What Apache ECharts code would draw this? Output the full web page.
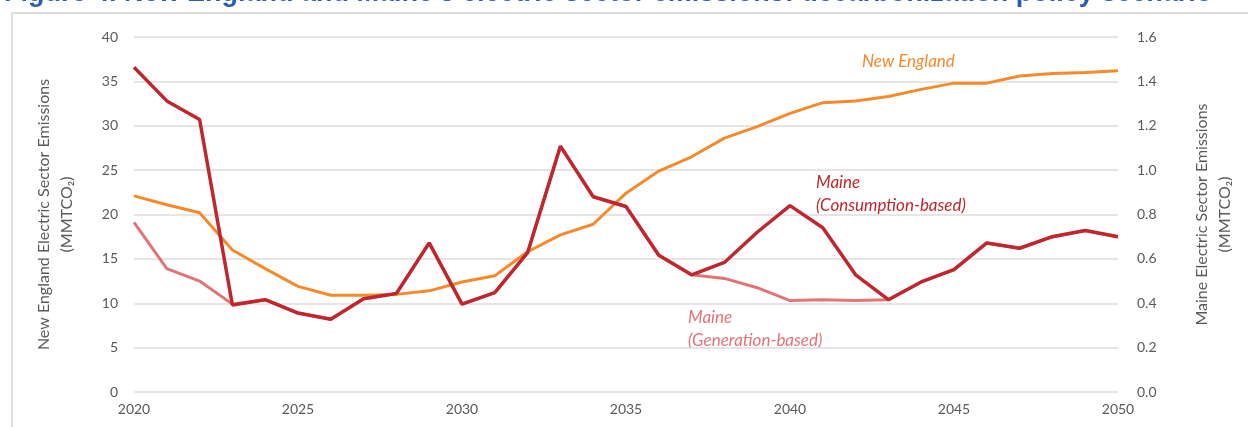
<!DOCTYPE html>
<html>
<head>
<meta charset="utf-8">
<script src="https://cdn.jsdelivr.net/npm/echarts@6/dist/echarts.min.js"></script>
<style>
  html, body { margin: 0; padding: 0; background: #fff; }
  #chart { width: 1248px; height: 427px; }
</style>
</head>
<body>
<div id="chart"></div>
<script>
// years on the x axis
let years = [];
for (let y = 2020; y <= 2050; y++) years.push(y);

// New England, MMTCO2 (left axis)
let newEngland = [22.1, 21.1, 20.2, 16.0, 13.9, 11.9, 10.9, 10.9, 11.0, 11.4,
    12.4, 13.1, 15.8, 17.7, 18.9, 22.4, 24.9, 26.5, 28.6, 29.9,
    31.4, 32.6, 32.8, 33.3, 34.1, 34.8, 34.8, 35.6, 35.9, 36.0, 36.2];

// Maine, MMTCO2 (right axis)
let maineConsumption = [1.464, 1.312, 1.228, 0.392, 0.416, 0.356, 0.328, 0.420, 0.444, 0.672,
    0.396, 0.448, 0.628, 1.108, 0.880, 0.836, 0.616, 0.528, 0.584, 0.720,
    0.840, 0.740, 0.528, 0.416, 0.496, 0.552, 0.672, 0.648, 0.700, 0.728, 0.700];
let maineGeneration = [0.764, 0.556, 0.500, 0.396, 0.416, 0.356, 0.328, 0.420, 0.444, 0.672,
    0.396, 0.448, 0.628, 1.108, 0.880, 0.836, 0.616, 0.528, 0.512, 0.470,
    0.412, 0.416, 0.412, 0.416, 0.496, 0.552, 0.672, 0.648, 0.700, 0.728, 0.700];

let leftTicks = [0, 40, 5];     // min, max, interval
let rightTicks = [0, 1.6, 0.2];

function pairs(vals) {
    return vals.map((v, i) => [years[i], v]);
}

let myChart = echarts.init(document.getElementById('chart'));

let labelColor = '#595959';
let font = 'Lato, "Open Sans", sans-serif';

let option = {
    backgroundColor: '#fff',
    animation: false,
    grid: { left: 134, right: 130, top: 37, bottom: 35 },
    xAxis: {
        type: 'value',
        min: 2020, max: 2050, interval: 5,
        axisLine: { show: false },
        axisTick: { show: false },
        splitLine: { show: false },
        axisLabel: {
            color: labelColor, fontSize: 14, fontFamily: font, margin: 10,
            formatter: v => String(v)
        }
    },
    yAxis: [{
        type: 'value',
        min: leftTicks[0], max: leftTicks[1], interval: leftTicks[2],
        name: 'New England Electric Sector Emissions\n(MMTCO\u2082)',
        nameLocation: 'middle',
        nameGap: 56,
        nameTextStyle: { color: labelColor, fontSize: 16, fontFamily: font, lineHeight: 23 },
        axisLine: { show: false },
        axisTick: { show: false },
        splitLine: { lineStyle: { color: '#dcdcdc', width: 1.5 } },
        axisLabel: { color: labelColor, fontSize: 14, fontFamily: font, margin: 16 }
    }, {
        type: 'value',
        min: rightTicks[0], max: rightTicks[1], interval: rightTicks[2],
        name: 'Maine Electric Sector Emissions\n(MMTCO\u2082)',
        nameLocation: 'middle',
        nameGap: 72,
        nameRotate: 90,
        nameTextStyle: { color: labelColor, fontSize: 16, fontFamily: font, lineHeight: 23 },
        axisLine: { show: false },
        axisTick: { show: false },
        splitLine: { show: false },
        axisLabel: {
            color: labelColor, fontSize: 14, fontFamily: font, margin: 19,
            formatter: v => v.toFixed(1)
        }
    }],
    series: [{
        name: 'New England',
        type: 'line',
        yAxisIndex: 0,
        data: pairs(newEngland),
        symbol: 'none',
        lineStyle: { color: '#F58A2C', width: 3 },
        z: 2
    }, {
        name: 'Maine (Generation-based)',
        type: 'line',
        yAxisIndex: 1,
        data: pairs(maineGeneration),
        symbol: 'none',
        lineStyle: { color: '#E27478', width: 3 },
        z: 3
    }, {
        name: 'Maine (Consumption-based)',
        type: 'line',
        yAxisIndex: 1,
        data: pairs(maineConsumption),
        symbol: 'none',
        lineStyle: { color: '#C0262D', width: 3.5 },
        z: 4
    }],
    graphic: [{
        type: 'rect',
        shape: { x: 12, y: 13, width: 1260, height: 430 },
        style: { fill: 'none', stroke: '#d4d4d4', lineWidth: 1.5 },
        silent: true
    }, {
        type: 'text',
        left: 4, top: -20,
        style: {
            text: 'Figure 4. New England and Maine\u2019s electric sector emissions: decarbonization policy scenario',
            fill: '#2E5CA8', font: 'bold 27px "Liberation Sans", sans-serif'
        }
    }, {
        type: 'text',
        left: 862, top: 53,
        style: { text: 'New England', fill: '#F58A2C', font: 'italic 17px ' + font }
    }, {
        type: 'text',
        left: 816, top: 171,
        style: { text: 'Maine\n(Consumption-based)', fill: '#C0262D', font: 'italic 17px ' + font, lineHeight: 23 }
    }, {
        type: 'text',
        left: 688, top: 306,
        style: { text: 'Maine\n(Generation-based)', fill: '#E27478', font: 'italic 17px ' + font, lineHeight: 23 }
    }]
};

myChart.setOption(option);
</script>
</body>
</html>
